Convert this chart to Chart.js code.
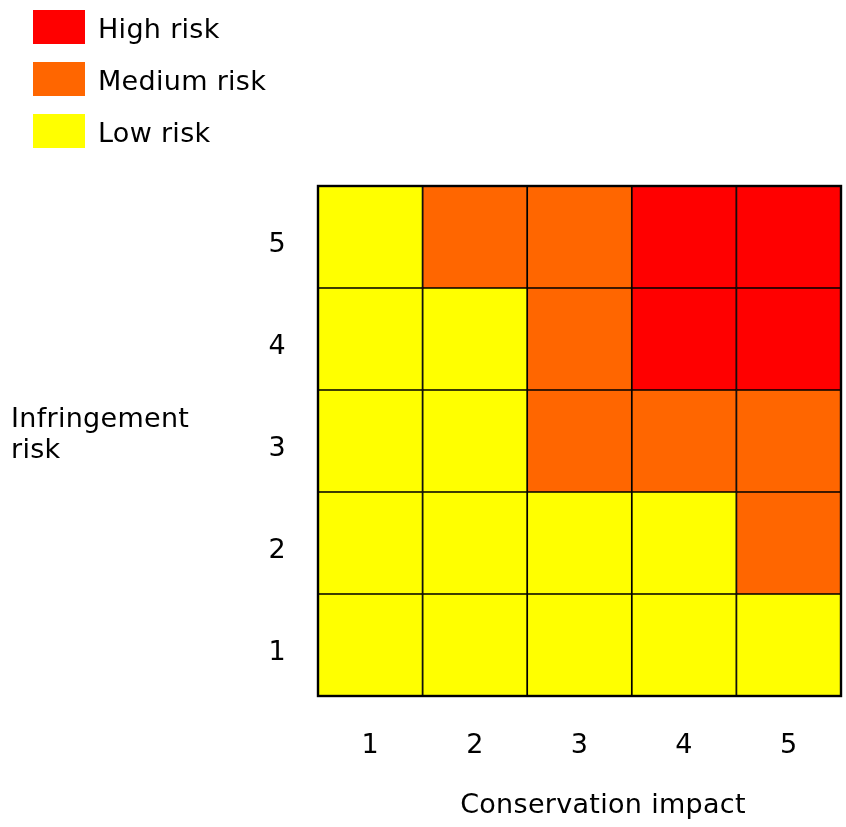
<!DOCTYPE html>
<html>
<head>
<meta charset="utf-8">
<script src="https://cdn.jsdelivr.net/npm/chart.js@4"></script>
<style>
  body { margin: 0; background: #fff; }
  #wrap { width: 846px; height: 827px; }
</style>
</head>
<body>
<div id="wrap"><canvas id="riskChart"></canvas></div>
<script>
// Conservation impact (columns) and infringement risk (rows)
var impactLabels = ['1', '2', '3', '4', '5'];
var infringementLevels = [1, 2, 3, 4, 5];

// Rating of each cell, row by row (H = high, M = medium, L = low)
var infringement1 = ['L', 'L', 'L', 'L', 'L'];
var infringement2 = ['L', 'L', 'L', 'L', 'M'];
var infringement3 = ['L', 'L', 'M', 'M', 'M'];
var infringement4 = ['L', 'L', 'M', 'H', 'H'];
var infringement5 = ['L', 'M', 'M', 'H', 'H'];
var ratingRows = [infringement1, infringement2, infringement3, infringement4, infringement5];

// Legend
var ratingKeys = ['H', 'M', 'L'];
var ratingNames = ['High risk', 'Medium risk', 'Low risk'];
var ratingColors = ['#FF0000', '#FF6600', '#FFFF00'];

function colorOf(key) {
    return ratingColors[ratingKeys.indexOf(key)];
}

var FONT = '"DejaVu Sans", Verdana, sans-serif';
var SIZE = 27;
var SPACING = '0.3px';

// one dataset per row: floating bars from level-0.5 to level+0.5
var datasets = infringementLevels.map(function (level, r) {
    return {
        label: 'Infringement ' + level,
        data: impactLabels.map(function () { return [level - 0.5, level + 0.5]; }),
        backgroundColor: ratingRows[r].map(colorOf),
        borderColor: '#000',
        borderWidth: 1.2,
        borderSkipped: false
    };
});

// legend, axis titles and outer frame
var extras = {
    id: 'extras',
    beforeUpdate: function (chart) { chart.ctx.letterSpacing = SPACING; },
    beforeDraw: function (chart) { chart.ctx.letterSpacing = SPACING; },
    afterDatasetsDraw: function (chart) {
        var a = chart.chartArea, ctx = chart.ctx;
        ctx.save();
        ctx.strokeStyle = '#000';
        ctx.lineWidth = 2.4;
        ctx.strokeRect(a.left, a.top, a.right - a.left, a.bottom - a.top);
        ctx.restore();
    },
    afterDraw: function (chart) {
        var ctx = chart.ctx, a = chart.chartArea;
        ctx.save();
        ctx.letterSpacing = SPACING;
        ctx.font = SIZE + 'px ' + FONT;
        ctx.textBaseline = 'alphabetic';
        ratingNames.forEach(function (name, i) {
            var top = 10 + i * 52;
            ctx.fillStyle = ratingColors[i];
            ctx.fillRect(33, top, 52, 34);
            ctx.fillStyle = '#000';
            ctx.fillText(name, 98, top + 28);
        });
        ctx.fillText('Infringement', 11, 427);
        ctx.fillText('risk', 11, 458);
        ctx.textAlign = 'center';
        ctx.fillText('Conservation impact', a.left + 285, 813);
        ctx.restore();
    }
};

var ctx = document.getElementById('riskChart').getContext('2d');
var chart = new Chart(ctx, {
    type: 'bar',
    data: { labels: impactLabels, datasets: datasets },
    plugins: [extras],
    options: {
        responsive: true,
        maintainAspectRatio: false,
        animation: false,
        layout: { padding: { top: 186, right: 5, left: 0, bottom: 0 } },
        datasets: { bar: { grouped: false, barPercentage: 1, categoryPercentage: 1 } },
        plugins: { legend: { display: false }, tooltip: { enabled: false } },
        scales: {
            x: {
                grid: { display: false, drawTicks: false },
                border: { display: false },
                ticks: { color: '#000', padding: 34, font: { family: FONT, size: SIZE } },
                afterFit: function (axis) { axis.height = 131; }
            },
            y: {
                min: 0.5,
                max: 5.5,
                grid: { display: false, drawTicks: false },
                border: { display: false },
                ticks: { color: '#000', padding: 32, labelOffset: 8, font: { family: FONT, size: SIZE } },
                afterBuildTicks: function (axis) {
                    axis.ticks = infringementLevels.map(function (v) { return { value: v }; });
                },
                afterFit: function (axis) { axis.width = 318; }
            }
        }
    }
});
</script>
</body>
</html>
